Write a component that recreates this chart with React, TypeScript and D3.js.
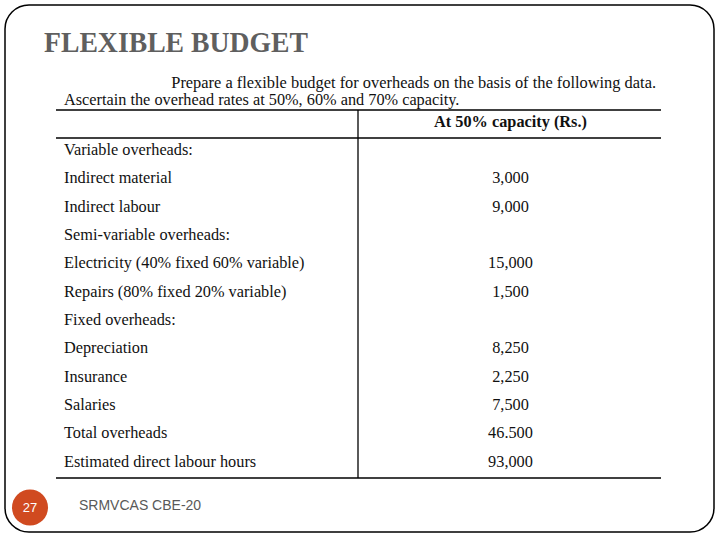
import React from "react";
import * as d3 from "d3";

const rowLabels = [
  "Variable overheads:",
  "Indirect material",
  "Indirect labour",
  "Semi-variable overheads:",
  "Electricity (40% fixed 60% variable)",
  "Repairs (80% fixed 20% variable)",
  "Fixed overheads:",
  "Depreciation",
  "Insurance",
  "Salaries",
  "Total overheads",
  "Estimated direct labour hours",
];

const rowValues = [
  "",
  "3,000",
  "9,000",
  "",
  "15,000",
  "1,500",
  "",
  "8,250",
  "2,250",
  "7,500",
  "46.500",
  "93,000",
];

const title = "FLEXIBLE BUDGET";
const introLines = [
  "Prepare a flexible budget for overheads on the basis of the following data.",
  "Ascertain the overhead rates at 50%, 60% and 70% capacity.",
];
const columnHeader = "At 50% capacity (Rs.)";
const footerText = "SRMVCAS CBE-20";
const pageNumber = "27";

const serif = "'Liberation Serif', 'Times New Roman', serif";
const sans = "'Liberation Sans', Arial, sans-serif";

const App = () => {
  const width = 720,
    height = 540;

  // table geometry
  const tableLeft = 56,
    tableRight = 661,
    splitX = 358;
  const tableTop = 110,
    headerBottom = 138,
    tableBottom = 478;

  const yScale = d3
    .scaleBand()
    .domain(rowLabels.map((d, i) => String(i)))
    .range([135, 475])
    .padding(0);

  const valueX = (splitX + tableRight) / 2 + 1;

  return (
    <svg
      width={width}
      height={height}
      style={{ position: "absolute", left: 0, top: 0, background: "#fff" }}
    >
      {/* slide frame */}
      <rect
        x={5}
        y={5}
        width={709}
        height={527}
        rx={24}
        ry={24}
        fill="#fff"
        stroke="#000"
        strokeWidth={1.5}
      />

      <text
        x={44}
        y={52}
        fontFamily={serif}
        fontWeight="bold"
        fontSize={29}
        fill="#5f5f5f"
        textLength={264}
        lengthAdjust="spacingAndGlyphs"
      >
        {title}
      </text>

      {/* intro */}
      <text
        x={656}
        y={88}
        textAnchor="end"
        fontFamily={serif}
        fontSize={16.4}
        fill="#111"
      >
        {introLines[0]}
      </text>
      <text x={64} y={105} fontFamily={serif} fontSize={16.3} fill="#111">
        {introLines[1]}
      </text>

      {/* table rules */}
      <g stroke="#000" strokeWidth={1.3}>
        <line x1={tableLeft} x2={tableRight} y1={tableTop} y2={tableTop} />
        <line x1={tableLeft} x2={tableRight} y1={headerBottom} y2={headerBottom} />
        <line x1={tableLeft} x2={tableRight} y1={tableBottom} y2={tableBottom} />
        <line x1={splitX} x2={splitX} y1={tableTop} y2={tableBottom} />
      </g>

      <text
        x={valueX}
        y={127}
        textAnchor="middle"
        fontFamily={serif}
        fontWeight="bold"
        fontSize={16.3}
        fill="#111"
      >
        {columnHeader}
      </text>

      {rowLabels.map((label, i) => {
        const cy = (yScale(String(i)) as number) + yScale.bandwidth() / 2;
        return (
          <g key={label}>
            <text
              x={64}
              y={cy}
              dy="0.35em"
              fontFamily={serif}
              fontSize={16.3}
              fill="#111"
            >
              {label}
            </text>
            {rowValues[i] && (
              <text
                x={valueX}
                y={cy}
                dy="0.35em"
                textAnchor="middle"
                fontFamily={serif}
                fontSize={16.3}
                fill="#111"
              >
                {rowValues[i]}
              </text>
            )}
          </g>
        );
      })}

      {/* footer */}
      <circle cx={30} cy={507.5} r={18} fill="#d04a20" />
      <text
        x={30}
        y={507.5}
        dy="0.35em"
        textAnchor="middle"
        fontFamily={sans}
        fontSize={13}
        fill="#fff"
      >
        {pageNumber}
      </text>
      <text x={79} y={510} fontFamily={sans} fontSize={14} fill="#595959">
        {footerText}
      </text>
    </svg>
  );
};

export default App;
